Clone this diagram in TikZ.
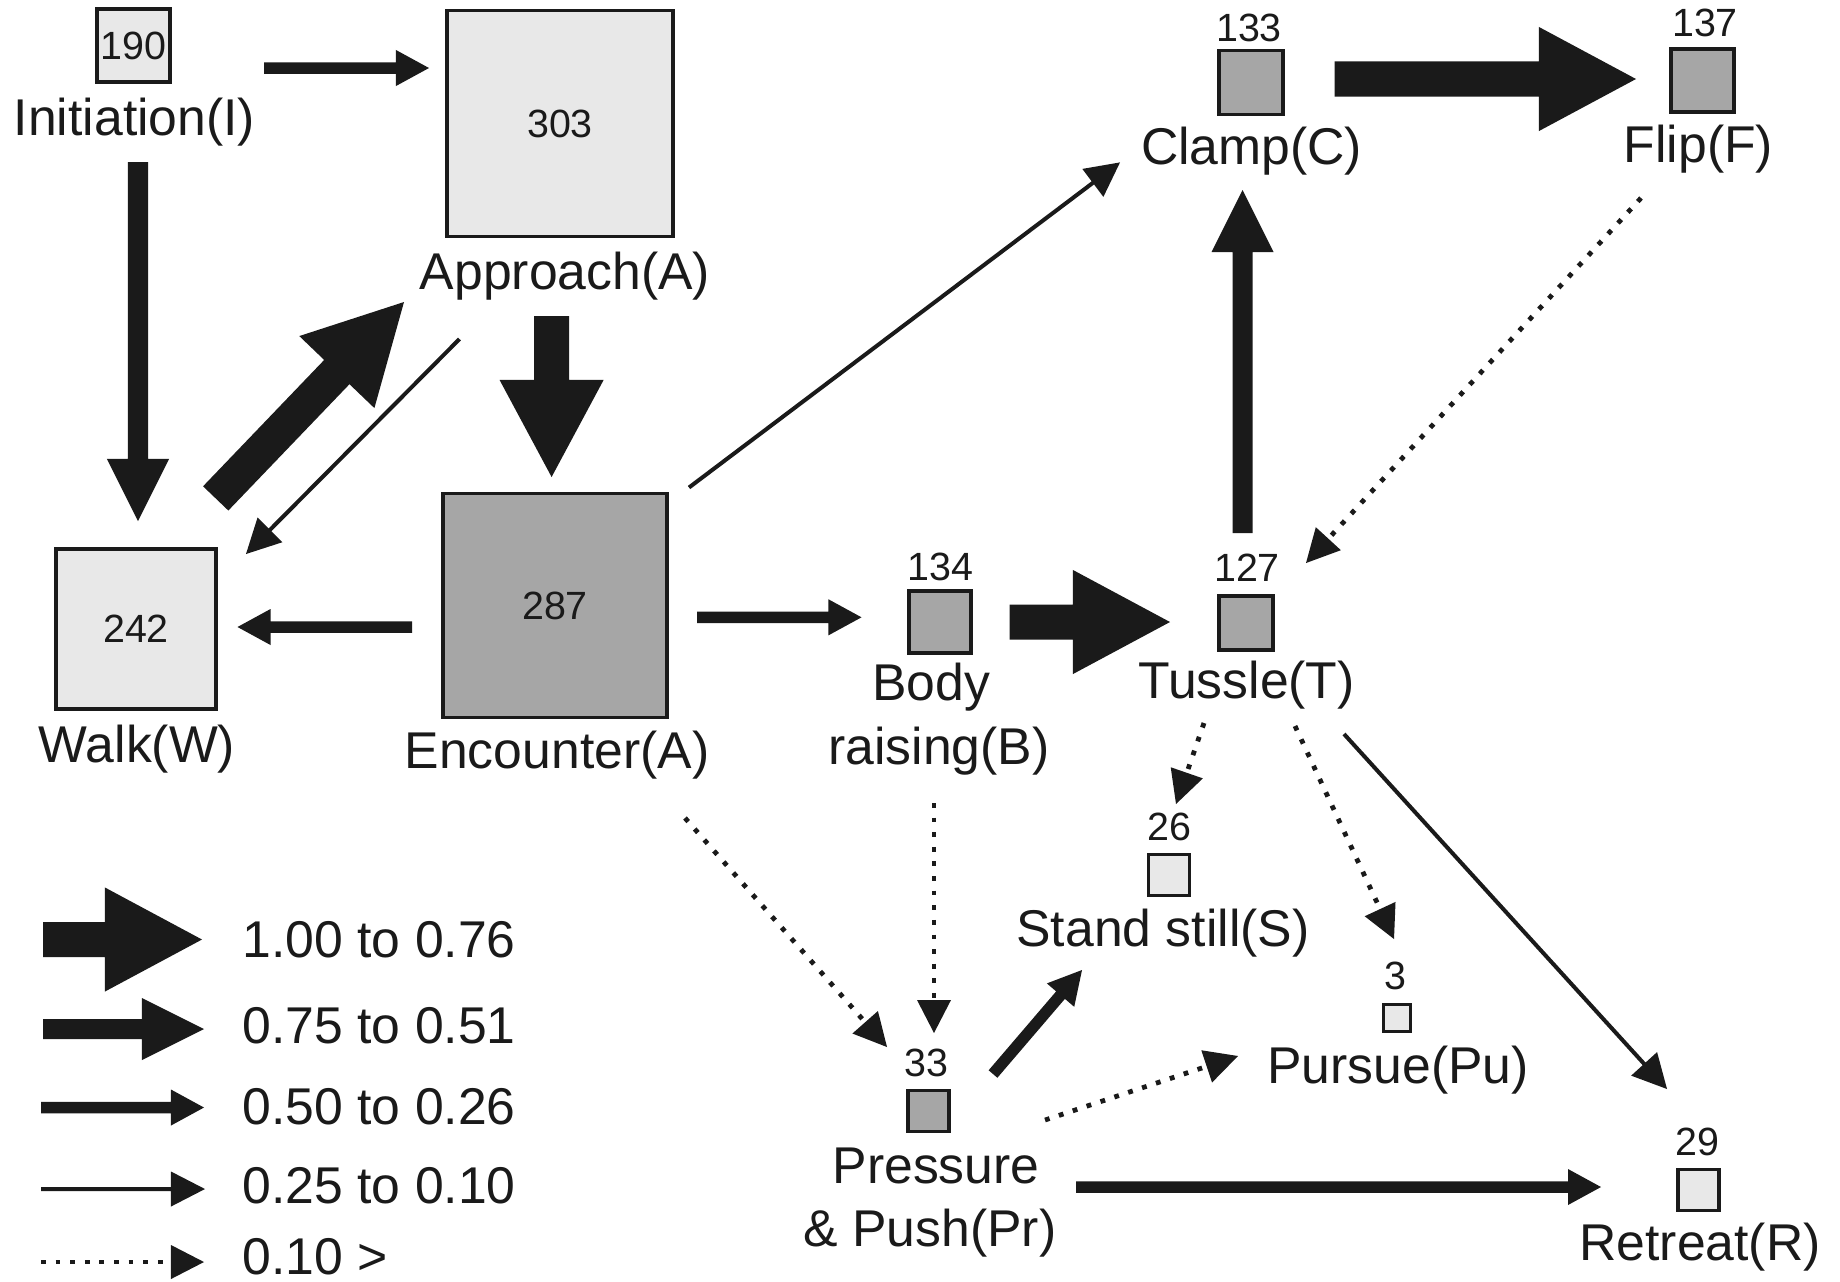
\documentclass[tikz,border=0pt]{standalone}
\usepackage{fontspec}
\setmainfont{Liberation Sans}
\usetikzlibrary{calc}
\definecolor{ink}{HTML}{1A1A1A}
\definecolor{lightg}{HTML}{E8E8E8}
\definecolor{darkg}{HTML}{A6A6A6}
% block arrow: start, end, half thickness, head half width, head length (cm)
\newcommand\blockarr[5]{%
  \fill[ink] let \p1=(#1), \p2=(#2), \n1={atan2(\y2-\y1,\x2-\x1)} in
    ($(\p1)+(\n1+90:#3cm)$) --
    ($(\p2)+(\n1+180:#5cm)+(\n1+90:#3cm)$) --
    ($(\p2)+(\n1+180:#5cm)+(\n1+90:#4cm)$) --
    (\p2) --
    ($(\p2)+(\n1+180:#5cm)+(\n1-90:#4cm)$) --
    ($(\p2)+(\n1+180:#5cm)+(\n1-90:#3cm)$) --
    ($(\p1)+(\n1-90:#3cm)$) -- cycle;}
\newcommand\arrA[2]{\blockarr{#1}{#2}{0.175}{0.52}{0.97}}
\newcommand\arrB[2]{\blockarr{#1}{#2}{0.10}{0.31}{0.62}}
\newcommand\arrC[2]{\blockarr{#1}{#2}{0.0575}{0.18}{0.33}}
\newcommand\arrD[2]{\blockarr{#1}{#2}{0.02}{0.175}{0.34}}
\newcommand\arrDot[2]{%
  \draw[ink, line width=0.048cm, dash pattern=on 0.048cm off 0.098cm]
    let \p1=(#1), \p2=(#2), \n1={atan2(\y2-\y1,\x2-\x1)} in
    (\p1) -- ($(\p2)+(\n1+180:0.35cm)$);
  \fill[ink] let \p1=(#1), \p2=(#2), \n1={atan2(\y2-\y1,\x2-\x1)} in
    (\p2) -- ($(\p2)+(\n1+180:0.33cm)+(\n1+90:0.17cm)$) --
    ($(\p2)+(\n1+180:0.33cm)+(\n1-90:0.17cm)$) -- cycle;}
\begin{document}
\begin{tikzpicture}[x=0.01cm,y=-0.01cm,
  lbl/.style={font=\fontsize{14.7}{17}\selectfont, inner sep=0pt, anchor=base, text=ink},
  num/.style={font=\fontsize{11.2}{13}\selectfont, inner sep=0pt, anchor=base, text=ink},
  lbox/.style={draw=ink, fill=lightg, line width=0.034cm, inner sep=0pt, font=\fontsize{11.2}{13}\selectfont, text=ink},
  dbox/.style={draw=ink, fill=darkg, line width=0.034cm, inner sep=0pt, font=\fontsize{11.2}{13}\selectfont, text=ink}]
\fill[white] (0,0) rectangle (1840,1281);
\useasboundingbox (0,0) rectangle (1840,1281);
% nodes
\node[lbox, minimum size=0.73cm] (I) at (133.5,45.5) {190};
\node[lbl] (Il) at (134.5,135) {Initiation(I)};
\node[lbox, minimum size=2.26cm] (A) at (560,123.5) {303};
\node[lbl] (Al) at (565,289) {Approach(A)};
\node[lbox, minimum size=1.60cm] (W) at (136,629) {242};
\node[lbl] (Wl) at (137,762) {Walk(W)};
\node[dbox, minimum size=2.24cm] (E) at (555,605.5) {287};
\node[lbl] (El) at (557,768) {Encounter(A)};
\node[dbox, minimum size=0.64cm] (C) at (1251,82.5) {};
\node[num] (Cn) at (1249,41) {133};
\node[lbl] (Cl) at (1251.6,164.8) {Clamp(C)};
\node[dbox, minimum size=0.63cm] (F) at (1702.5,80.5) {};
\node[num] (Fn) at (1705,36.4) {137};
\node[lbl] (Fl) at (1698.5,162.4) {Flip(F)};
\node[dbox, minimum size=0.54cm] (T) at (1246,623) {};
\node[num] (Tn) at (1247,581.7) {127};
\node[lbl] (Tl) at (1246.6,698) {Tussle(T)};
\node[dbox, minimum size=0.62cm] (B) at (940,622) {};
\node[num] (Bn) at (940.6,580) {134};
\node[lbl] (Bl1) at (931,700.7) {Body};
\node[lbl] (Bl2) at (939,764.5) {raising(B)};
\node[lbox, minimum size=0.41cm] (S) at (1169,875) {};
\node[num] (Sn) at (1169,840) {26};
\node[lbl] (Sl) at (1163,946.4) {Stand still(S)};
\node[lbox, minimum size=0.27cm] (Pu) at (1397,1018) {};
\node[num] (Pun) at (1395,989) {3};
\node[lbl] (Pul) at (1398,1083) {Pursue(Pu)};
\node[dbox, minimum size=0.41cm] (Pr) at (928.5,1111) {};
\node[num] (Prn) at (926.5,1076) {33};
\node[lbl] (Prl1) at (936,1183.7) {Pressure};
\node[lbl] (Prl2) at (930,1246.5) {\& Push(Pr)};
\node[lbox, minimum size=0.41cm] (R) at (1698.5,1190) {};
\node[num] (Rn) at (1697,1155) {29};
\node[lbl] (Rl) at (1700,1260) {Retreat(R)};
% connector end points
\coordinate (ia1) at (264,68);     \coordinate (ia2) at (429,68);
\coordinate (iw1) at (138,162);    \coordinate (iw2) at (138,521);
\coordinate (wa1) at (215.7,498.4);\coordinate (wa2) at (404,302);
\coordinate (aw1) at (459.5,339);  \coordinate (aw2) at (246,554);
\coordinate (ae1) at (551.6,316);  \coordinate (ae2) at (551.6,477);
\coordinate (ew1) at (412,627);    \coordinate (ew2) at (237.5,627);
\coordinate (ec1) at (689,487.5);  \coordinate (ec2) at (1120,162.4);
\coordinate (eb1) at (697,617.3);  \coordinate (eb2) at (861.5,617.3);
\coordinate (bt1) at (1009.5,622); \coordinate (bt2) at (1170,622);
\coordinate (cf1) at (1334.5,79);  \coordinate (cf2) at (1636,79);
\coordinate (tc1) at (1242.5,533); \coordinate (tc2) at (1242.5,190);
\coordinate (ft1) at (1641,198);   \coordinate (ft2) at (1306,563);
\coordinate (ts1) at (1204,723);   \coordinate (ts2) at (1176,804);
\coordinate (tp1) at (1295,726);   \coordinate (tp2) at (1394,939);
\coordinate (tr1) at (1344,734);   \coordinate (tr2) at (1667,1089);
\coordinate (ep1) at (685,818);    \coordinate (ep2) at (887,1047);
\coordinate (bp1) at (934,803);    \coordinate (bp2) at (934,1033);
\coordinate (ps1) at (993,1074);   \coordinate (ps2) at (1082,970);
\coordinate (pp1) at (1045,1120);  \coordinate (pp2) at (1238,1056);
\coordinate (pr1) at (1076,1187);  \coordinate (pr2) at (1601,1187);
% connectors
\arrC{ia1}{ia2}
\arrB{iw1}{iw2}
\arrA{wa1}{wa2}
\arrD{aw1}{aw2}
\arrA{ae1}{ae2}
\arrC{ew1}{ew2}
\arrD{ec1}{ec2}
\arrC{eb1}{eb2}
\arrA{bt1}{bt2}
\arrA{cf1}{cf2}
\arrB{tc1}{tc2}
\arrDot{ft1}{ft2}
\arrDot{ts1}{ts2}
\arrDot{tp1}{tp2}
\arrD{tr1}{tr2}
\arrDot{ep1}{ep2}
\arrDot{bp1}{bp2}
\arrC{ps1}{ps2}
\arrDot{pp1}{pp2}
\arrC{pr1}{pr2}
% legend
\coordinate (l1a) at (43,939.5);  \coordinate (l1b) at (202,939.5);
\coordinate (l2a) at (43,1029);   \coordinate (l2b) at (204,1029);
\coordinate (l3a) at (41,1107.5); \coordinate (l3b) at (204,1107.5);
\coordinate (l4a) at (41,1189);   \coordinate (l4b) at (205,1189);
\coordinate (l5a) at (41,1262);   \coordinate (l5b) at (204,1262);
\arrA{l1a}{l1b}
\arrB{l2a}{l2b}
\arrC{l3a}{l3b}
\arrD{l4a}{l4b}
\arrDot{l5a}{l5b}
\node[lbl, anchor=base west] (t1) at (242,957) {1.00 to 0.76};
\node[lbl, anchor=base west] (t2) at (242,1043) {0.75 to 0.51};
\node[lbl, anchor=base west] (t3) at (242,1124) {0.50 to 0.26};
\node[lbl, anchor=base west] (t4) at (242,1203) {0.25 to 0.10};
\node[lbl, anchor=base west] (t5) at (242,1274) {0.10 >};
\end{tikzpicture}
\end{document}
